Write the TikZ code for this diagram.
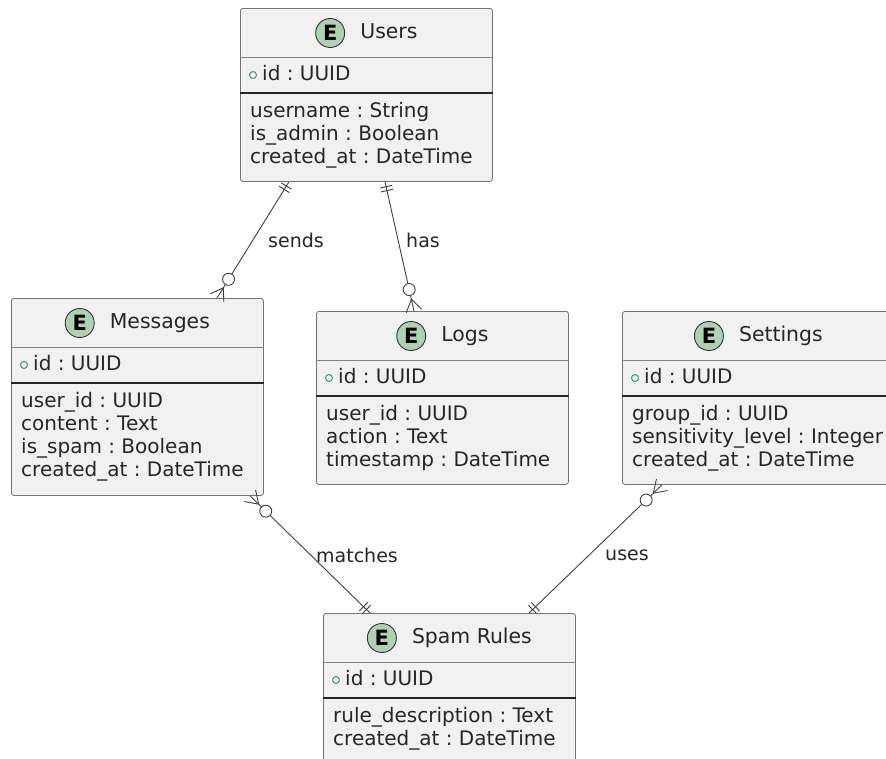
\documentclass[tikz,border=0pt]{standalone}
\usepackage{fontspec}
\setmainfont{DejaVu Sans}
\usetikzlibrary{calc,positioning}
\definecolor{boxfill}{HTML}{F1F1F1}
\definecolor{ecirc}{HTML}{ADD1B2}
\definecolor{idmark}{HTML}{3C9C80}
\definecolor{txt}{HTML}{262626}
\tikzset{
  entity/.style={draw=black!55, fill=boxfill, rounded corners=2.5pt, line width=0.8pt, inner sep=0pt, anchor=north west},
  hsep/.style={draw=black!50, line width=0.7pt},
  isep/.style={draw=black!85, line width=1.2pt},
  etitle/.style={font=\fontsize{20.4}{23}\selectfont, inner sep=0pt, text=txt, text height=15pt, text depth=4.5pt},
  attr/.style={font=\fontsize{20}{23}\selectfont, inner sep=0pt, anchor=west, text=txt, text height=15pt, text depth=4.5pt},
  ebadge/.style={circle, draw=black!80, fill=ecirc, minimum size=29pt, inner sep=0pt, font=\bfseries\fontsize{21}{21}\selectfont, line width=0.9pt},
  idmk/.style={circle, draw=idmark, line width=1pt, minimum size=7pt, inner sep=0pt},
  rel/.style={draw=black!75, line width=0.9pt},
  rlabel/.style={font=\fontsize{19}{20}\selectfont, inner sep=0pt, text=txt}
}
\newcommand\erent[7]{%
  \node[entity, minimum width=#4pt, minimum height=#5pt] (#1) at (#2,#3) {};
  \draw[hsep] ([yshift=-49pt]#1.north west) -- ([yshift=-49pt]#1.north east);
  \draw[isep] ([yshift=-85pt]#1.north west) -- ([yshift=-85pt]#1.north east);
  \node[etitle] (#1-t) at ($(#1.north)+(22.5pt,-25pt)$) {#6};
  \node[ebadge, left=15pt of #1-t] (#1-e) {E};
  \node[idmk] (#1-m) at ($(#1.north west)+(13pt,-67pt)$) {};
  \node[attr] (#1-id) at ($(#1.north west)+(22pt,-67pt)$) {id : UUID};
  \foreach \a [count=\i] in {#7} {
    \node[attr] (#1-a\i) at ($(#1.north west)+(10pt,{-81pt-23pt*\i})$) {\a};
  }
}
\newcommand\crowmany[2]{% many-end at #1, other end #2
  \draw[rel] ($(#1)!12pt!(#2)$) -- ($(#1)!8pt!90:(#2)$);
  \draw[rel] ($(#1)!12pt!(#2)$) -- ($(#1)!8pt!-90:(#2)$);
  \draw[rel, fill=white] ($(#1)!22pt!(#2)$) circle[radius=6pt];
}
\newcommand\oneonly[2]{% one-end at #1, other end #2
  \draw[rel] ($(#1)!5pt!(#2)!6pt!90:(#2)$) -- ($(#1)!5pt!(#2)!6pt!-90:(#2)$);
  \draw[rel] ($(#1)!9pt!(#2)!6pt!90:(#2)$) -- ($(#1)!9pt!(#2)!6pt!-90:(#2)$);
}
\begin{document}
\frenchspacing
\begin{tikzpicture}[x=1pt, y=-1pt]
\useasboundingbox[fill=white] (0,0) rectangle (886,758);

\erent{users}{240}{8}{252}{173}{Users}{username : String, is\_admin : Boolean, created\_at : DateTime}
\erent{msg}{11}{298}{252}{197}{Messages}{user\_id : UUID, content : Text, is\_spam : Boolean, created\_at : DateTime}
\erent{logs}{316}{311}{252}{173}{Logs}{user\_id : UUID, action : Text, timestamp : DateTime}
\erent{set}{622}{311}{272}{173}{Settings}{group\_id : UUID, sensitivity\_level : Integer, created\_at : DateTime}
\erent{spam}{323}{613}{252}{150}{Spam Rules}{rule\_description : Text, created\_at : DateTime}

% connector end points
\coordinate (um1) at ([xshift=49pt]users.south west);
\coordinate (um2) at ([xshift=206pt]msg.north west);
\coordinate (ul1) at ([xshift=145pt]users.south west);
\coordinate (ul2) at ([xshift=98pt]logs.north west);
\coordinate (ms1) at ([xshift=47pt]spam.north west);
\coordinate (ms2) at ([xshift=239pt]msg.south west);
\coordinate (ss1) at ([xshift=206pt]spam.north west);
\coordinate (ss2) at ([xshift=40pt]set.south west);

\draw[rel] (um1) -- (um2);
\draw[rel] (ul1) -- (ul2);
\draw[rel] (ms1) -- (ms2);
\draw[rel] (ss1) -- (ss2);

\oneonly{um1}{um2}
\crowmany{um2}{um1}
\oneonly{ul1}{ul2}
\crowmany{ul2}{ul1}
\oneonly{ms1}{ms2}
\crowmany{ms2}{ms1}
\oneonly{ss1}{ss2}
\crowmany{ss2}{ss1}

\node[rlabel] (lsends) at (296,240) {sends};
\node[rlabel] (lhas) at (423,240) {has};
\node[rlabel] (lmatches) at (357,555) {matches};
\node[rlabel] (luses) at (627,555) {uses};
\end{tikzpicture}
\end{document}
